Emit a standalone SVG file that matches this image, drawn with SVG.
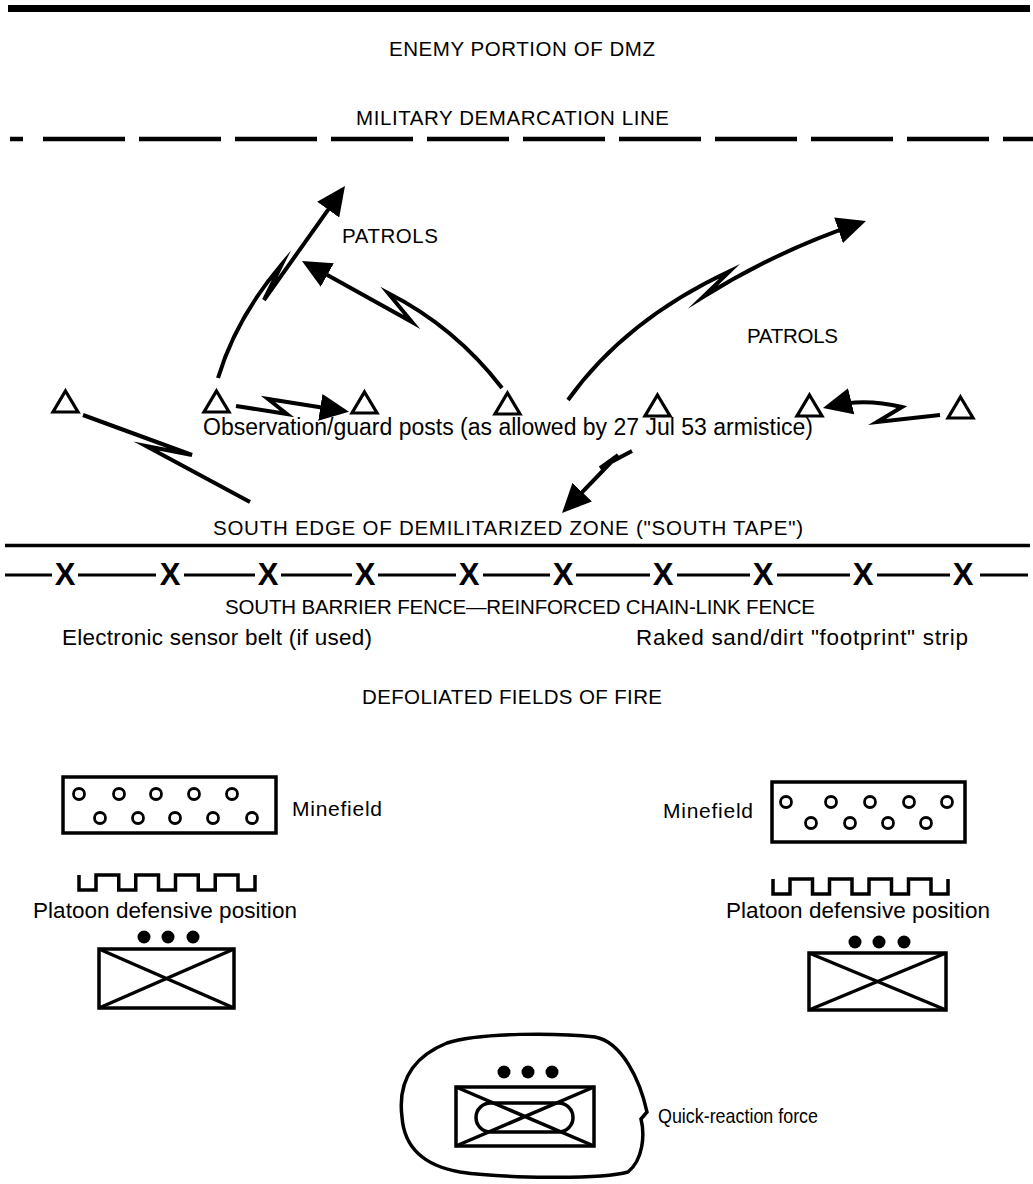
<svg xmlns="http://www.w3.org/2000/svg" width="1033" height="1184" viewBox="0 0 1033 1184">
<style>
text{font-family:"Liberation Sans",Arial,Helvetica,sans-serif;fill:#000}
.cap{font-size:20.5px}
.lbl{font-size:22.5px}
.pat{font-size:20.5px}
.fx{font-size:31px;font-weight:bold}
.ln{fill:none;stroke:#000}
.arr{fill:none;stroke:#000;stroke-width:4;stroke-linejoin:miter;stroke-miterlimit:10}
.sym{fill:none;stroke:#000;stroke-width:3.5}
.mine{fill:none;stroke:#000;stroke-width:2.8}
.post{fill:none;stroke:#000;stroke-width:3.2;stroke-linejoin:miter}
.dot{fill:#000}
</style>
<defs>
<marker id="ah" markerUnits="userSpaceOnUse" markerWidth="29" markerHeight="27" refX="19" refY="13.5" orient="auto" viewBox="0 0 29 27"><path d="M0,0 L29,13.5 L0,27 Z" fill="#000"/></marker>
<path id="tri" d="M0,-21 L12.5,0 L-12.5,0 Z"/>
</defs>
<rect width="1033" height="1184" fill="#fff"/>

<g id="boundaries">
<line class="ln" x1="8" y1="8.5" x2="1030" y2="8.5" stroke-width="7"/>
<line class="ln" x1="10" y1="139" x2="23" y2="139" stroke-width="4.5"/>
<line class="ln" x1="43" y1="139" x2="1033" y2="139" stroke-width="4.5" stroke-dasharray="82 14"/>
<line class="ln" x1="5" y1="545.5" x2="1030" y2="545.5" stroke-width="3.5"/>
</g>

<g id="fence">
<path class="ln" stroke-width="3" d="M5,575 H52 M78,575 H156 M184,575 H255 M281,575 H352 M378,575 H456 M483,575 H550 M576,575 H650 M677,575 H750 M777,575 H850 M877,575 H950 M980,575 H1028"/>
<g class="fx" text-anchor="middle">
<text x="65" y="585">X</text><text x="170" y="585">X</text><text x="268" y="585">X</text><text x="365" y="585">X</text><text x="469" y="585">X</text><text x="563" y="585">X</text><text x="663" y="585">X</text><text x="763" y="585">X</text><text x="863" y="585">X</text><text x="963" y="585">X</text>
</g>
</g>

<g id="labels">
<text class="cap" x="389" y="56" textLength="266" lengthAdjust="spacing">ENEMY PORTION OF DMZ</text>
<text class="cap" x="356" y="125" textLength="313" lengthAdjust="spacing">MILITARY DEMARCATION LINE</text>
<text class="pat" x="342" y="243" textLength="96" lengthAdjust="spacing">PATROLS</text>
<text class="pat" x="747" y="343" textLength="91" lengthAdjust="spacing">PATROLS</text>
<text class="cap" x="213" y="535" textLength="590" lengthAdjust="spacing">SOUTH EDGE OF DEMILITARIZED ZONE ("SOUTH TAPE")</text>
<text class="cap" x="225" y="614" textLength="590" lengthAdjust="spacing">SOUTH BARRIER FENCE—REINFORCED CHAIN-LINK FENCE</text>
<text class="lbl" x="62" y="645" textLength="310" lengthAdjust="spacing">Electronic sensor belt (if used)</text>
<text class="lbl" x="636" y="645" textLength="332" lengthAdjust="spacing">Raked sand/dirt "footprint" strip</text>
<text class="cap" x="362" y="704" textLength="300" lengthAdjust="spacing">DEFOLIATED FIELDS OF FIRE</text>
</g>

<g id="posts">
<g id="post1"><use href="#tri" class="post" x="65.5" y="412"/></g>
<g id="post2"><use href="#tri" class="post" x="216.5" y="412"/></g>
<g id="post3"><use href="#tri" class="post" x="364.5" y="413"/></g>
<g id="post4"><use href="#tri" class="post" x="507.5" y="414"/></g>
<g id="post5"><use href="#tri" class="post" x="657.5" y="416"/></g>
<g id="post6"><use href="#tri" class="post" x="809.5" y="416"/></g>
<g id="post7"><use href="#tri" class="post" x="960.5" y="418"/></g>
<text x="203" y="435" style="font-size:23px" textLength="610" lengthAdjust="spacing">Observation/guard posts (as allowed by 27 Jul 53 armistice)</text>
</g>

<g id="connectors">
<path class="arr" marker-end="url(#ah)" d="M218,378 Q236,318 282,264 L264,300 L339.2,194.2"/>
<path class="arr" marker-end="url(#ah)" d="M502,388 Q455,327 388,293 L412,322 L310.7,265.8"/>
<path class="arr" marker-end="url(#ah)" d="M568,400 Q625,320 730,271 L703,297 Q775,252 856.5,224.2"/>
<path class="arr" marker-end="url(#ah)" d="M940,415 L877,422 L902,407 Q865,398 832.7,405.7"/>
<path class="arr" marker-end="url(#ah)" d="M236,406 L287,414 L268,399 L339.1,410.3"/>
<path class="arr" d="M83,415 L192,455 L146,446 L250,502"/>
<path class="arr" marker-end="url(#ah)" d="M632,451 L600,468 L618,455 L569,505.8"/>
</g>

<g id="minefield-left">
<rect class="sym" x="63" y="777" width="213" height="56" stroke-width="3"/>
<g class="mine">
<circle cx="79" cy="794" r="5.5"/><circle cx="119" cy="794" r="5.5"/><circle cx="156" cy="794" r="5.5"/><circle cx="194" cy="794" r="5.5"/><circle cx="232" cy="794" r="5.5"/>
<circle cx="100" cy="818" r="5.5"/><circle cx="138" cy="818" r="5.5"/><circle cx="175" cy="818" r="5.5"/><circle cx="213" cy="818" r="5.5"/><circle cx="252" cy="818" r="5.5"/>
</g>
<text class="lbl" x="292" y="816" style="font-size:21px" textLength="90" lengthAdjust="spacing">Minefield</text>
</g>

<g id="minefield-right">
<rect class="sym" x="772" y="782" width="193" height="60" stroke-width="3"/>
<g class="mine">
<circle cx="786" cy="802" r="5.5"/><circle cx="831" cy="802" r="5.5"/><circle cx="870" cy="802" r="5.5"/><circle cx="909" cy="802" r="5.5"/><circle cx="947" cy="802" r="5.5"/>
<circle cx="811" cy="823" r="5.5"/><circle cx="850" cy="823" r="5.5"/><circle cx="888" cy="823" r="5.5"/><circle cx="926" cy="823" r="5.5"/>
</g>
<text class="lbl" x="663" y="818" style="font-size:21px" textLength="90" lengthAdjust="spacing">Minefield</text>
</g>

<g id="platoon-left">
<path class="sym" stroke-width="4" d="M79,875 V890 H96 V875 H118.75 V890 H135.75 V875 H158.5 V890 H175.5 V875 H198.25 V890 H215.25 V875 H238 V890 H255 V875"/>
<text class="lbl" x="33" y="918" textLength="264" lengthAdjust="spacing">Platoon defensive position</text>
<circle class="dot" cx="144" cy="937" r="6.5"/><circle class="dot" cx="168" cy="937" r="6.5"/><circle class="dot" cx="193" cy="937" r="6.5"/>
<rect class="sym" x="99" y="949" width="135" height="59"/>
<path class="sym" d="M99,949 L234,1008 M234,949 L99,1008"/>
</g>

<g id="platoon-right">
<path class="sym" stroke-width="4" d="M773,879 V894 H790 V879 H812.5 V894 H829.5 V879 H852 V894 H869 V879 H891.5 V894 H908.5 V879 H931 V894 H948 V879"/>
<text class="lbl" x="726" y="918" textLength="264" lengthAdjust="spacing">Platoon defensive position</text>
<circle class="dot" cx="855" cy="942" r="6.5"/><circle class="dot" cx="879" cy="942" r="6.5"/><circle class="dot" cx="904" cy="942" r="6.5"/>
<rect class="sym" x="809" y="953" width="137" height="57"/>
<path class="sym" d="M809,953 L946,1010 M946,953 L809,1010"/>
</g>

<g id="quick-reaction-force">
<path class="sym" stroke-width="4" d="M402,1117 C398,1085 410,1058 447,1043 C480,1032 560,1033 595,1037 C622,1042 640,1080 647,1112 L641,1119 C645,1135 643,1160 628,1172 C600,1180 500,1178 460,1172 C420,1165 404,1145 402,1117 Z"/>
<circle class="dot" cx="504" cy="1072" r="6.5"/><circle class="dot" cx="528" cy="1072" r="6.5"/><circle class="dot" cx="552" cy="1072" r="6.5"/>
<rect class="sym" x="456" y="1087" width="138" height="59"/>
<rect class="sym" x="476" y="1103" width="97" height="29" rx="14.5"/>
<path class="sym" d="M456,1087 L594,1146 M594,1087 L456,1146"/>
<text x="658" y="1123" style="font-size:21px" textLength="160" lengthAdjust="spacingAndGlyphs">Quick-reaction force</text>
</g>
</svg>
